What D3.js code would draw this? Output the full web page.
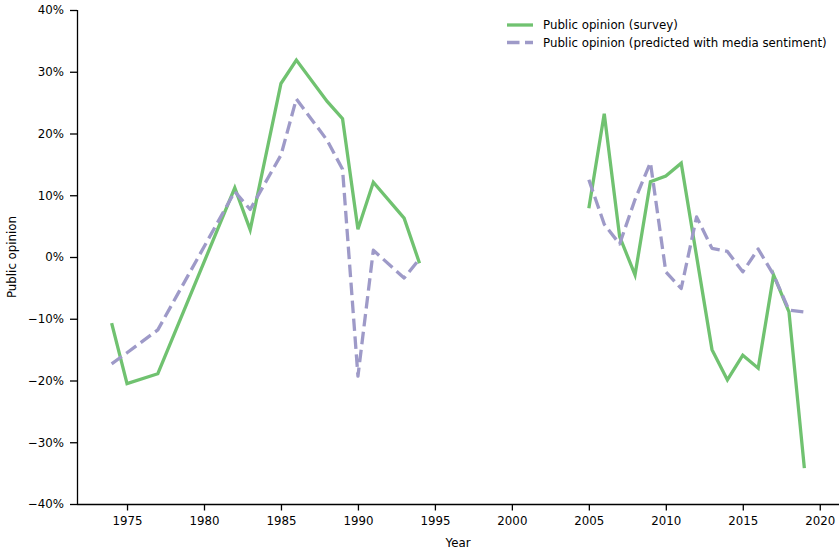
<!DOCTYPE html>
<html>
<head>
<meta charset="utf-8">
<script src="https://cdn.jsdelivr.net/npm/d3@7"></script>
<style>
  html, body { margin: 0; padding: 0; background: #fff; }
  svg { display: block; font-family: "DejaVu Sans", sans-serif; }
</style>
</head>
<body>
<svg id="chart" width="839" height="550"></svg>
<script>
// ---- data ----
const years = [1974, 1975, 1977, 1982, 1983, 1985, 1986, 1988, 1989, 1990, 1991, 1993, 1994,
               null,
               2005, 2006, 2007, 2008, 2009, 2010, 2011, 2012, 2013, 2014, 2015, 2016, 2017, 2018, 2019];
const surveyValues = [-10.7, -20.5, -18.9, 11.2, 4.4, 28.1, 31.9, 25.2, 22.4, 4.5, 12.1, 6.3, -1.0,
                      null,
                      7.9, 23.2, 3.3, -2.9, 12.2, 13.1, 15.2, 0.1, -15.0, -19.9, -15.9, -18.0, -2.9, -8.9, -34.2];
const predictedValues = [-17.3, -15.5, -11.8, 10.6, 7.7, 16.5, 25.6, 18.9, 14.2, -19.3, 1.1, -3.4, -0.3,
                         null,
                         12.5, 5.3, 2.1, 9.3, 15.3, -2.4, -5.1, 6.5, 1.4, 0.9, -2.4, 1.3, -2.9, -8.6, -8.9];
const yTicks = [-40, -30, -20, -10, 0, 10, 20, 30, 40];
const xTicks = [1975, 1980, 1985, 1990, 1995, 2000, 2005, 2010, 2015, 2020];
const seriesNames = ["Public opinion (survey)", "Public opinion (predicted with media sentiment)"];
const xLabel = "Year";
const yLabel = "Public opinion";

// ---- layout ----
const svg = d3.select("#chart");
const mLeft = 77, mRight = 839, mTop = 10, mBottom = 504;
const greenColor = "#70c270";
const purpleColor = "#9e9ac8";
const fontSize = "11.8px";

const x = d3.scaleLinear().domain([1971.75, 2021.25]).range([mLeft, mRight]);
const y = d3.scaleLinear().domain([-40, 40]).range([mBottom, mTop]);

// axes
const xAxis = d3.axisBottom(x).tickValues(xTicks).tickFormat(d3.format("d")).tickSize(6.5).tickPadding(6);
const yAxis = d3.axisLeft(y).tickValues(yTicks).tickFormat(d => (d < 0 ? "\u2212" + Math.abs(d) : d) + "%").tickSize(7).tickPadding(6);

const gx = svg.append("g").attr("transform", `translate(0,${mBottom})`).call(xAxis);
const gy = svg.append("g").attr("transform", `translate(${mLeft},0)`).call(yAxis);

[gx, gy].forEach(g => {
  g.select(".domain").attr("stroke", "#000").attr("stroke-width", 1.3);
  g.selectAll(".tick line").attr("stroke", "#000").attr("stroke-width", 1.3);
  g.selectAll(".tick text").attr("fill", "#000").attr("font-size", fontSize).attr("font-family", "DejaVu Sans");
});
gx.select(".domain").attr("d", `M${mLeft},0.5H${mRight}`);
gy.select(".domain").attr("d", `M0.5,${mTop}V${mBottom}`);

// axis labels
svg.append("text").attr("x", (mLeft + mRight) / 2).attr("y", 547)
  .attr("text-anchor", "middle").attr("font-size", fontSize).attr("fill", "#000").text(xLabel);
svg.append("text").attr("transform", `translate(16,${(mTop + mBottom) / 2}) rotate(-90)`)
  .attr("text-anchor", "middle").attr("font-size", fontSize).attr("fill", "#000").text(yLabel);

// lines
function makeData(vals) {
  return years.map((yr, i) => ({ year: yr, value: vals[i] }));
}
const line = d3.line()
  .defined(d => d.year !== null && d.value !== null)
  .x(d => x(d.year)).y(d => y(d.value));

svg.append("path").datum(makeData(surveyValues))
  .attr("d", line).attr("fill", "none").attr("stroke", greenColor)
  .attr("stroke-width", 3.3).attr("stroke-linejoin", "miter").attr("stroke-linecap", "butt");

svg.append("path").datum(makeData(predictedValues))
  .attr("d", line).attr("fill", "none").attr("stroke", purpleColor)
  .attr("stroke-width", 3.3).attr("stroke-dasharray", "12.5,5.5")
  .attr("stroke-linejoin", "round").attr("stroke-linecap", "butt");

// legend
const legend = svg.append("g");
const legendItems = [
  { name: seriesNames[0], color: greenColor, dash: null, yy: 25 },
  { name: seriesNames[1], color: purpleColor, dash: "12.5,5.5", yy: 42.5 }
];
legendItems.forEach(it => {
  legend.append("line").attr("x1", 507).attr("x2", 533).attr("y1", it.yy).attr("y2", it.yy)
    .attr("stroke", it.color).attr("stroke-width", 3.3)
    .attr("stroke-dasharray", it.dash);
  legend.append("text").attr("x", 543).attr("y", it.yy + 4).attr("font-size", fontSize)
    .attr("fill", "#000").text(it.name);
});
</script>
</body>
</html>
